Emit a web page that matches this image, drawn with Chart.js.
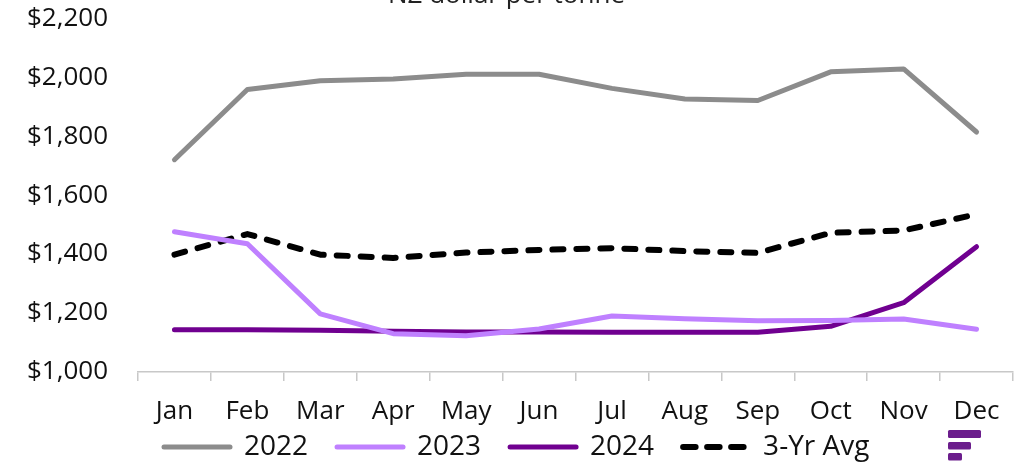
<!DOCTYPE html>
<html><head><meta charset="utf-8">
<script src="https://cdn.jsdelivr.net/npm/chart.js@4.4.1/dist/chart.umd.min.js"></script>
<style>
html,body{margin:0;padding:0;background:#fff;overflow:hidden;width:1035px;height:463px;}
#wrap{position:absolute;left:0;top:-30px;width:1035px;height:493px;}
</style></head>
<body>
<div id="wrap"><canvas id="c" width="1035" height="493"></canvas></div>
<script>
const months = ['Jan','Feb','Mar','Apr','May','Jun','Jul','Aug','Sep','Oct','Nov','Dec'];
const y2022 = [1720,1958,1988,1994,2010,2010,1962,1926,1921,2018,2028,1814];
const y2023 = [1476,1435,1197,1130,1123,1146,1190,1181,1174,1175,1180,1145];
const y2024 = [1143,1143,1142,1138,1136,1136,1135,1135,1135,1155,1235,1425];
const avg3  = [1398,1468,1398,1387,1405,1414,1420,1410,1404,1472,1480,1535];
const yTicks = [1000,1200,1400,1600,1800,2000,2200];
const titleText = 'NZ dollar per tonne';

const logoPlugin = {
  id: 'logo',
  afterDraw(chart){
    const ctx = chart.ctx;
    ctx.save();
    ctx.fillStyle = '#6b1d8c';
    const x = 948, y0 = 460;
    const bars = [[0,33,8],[12,23,7.5],[23,14,7.5]];
    bars.forEach(([dy,w,h])=>{
      ctx.beginPath();
      ctx.roundRect(x, y0+dy, w, h, 1.5);
      ctx.fill();
    });
    ctx.restore();
  }
};
const legendPlace = {
  id: 'legendPlace',
  afterLayout(chart){
    if (chart.legend) { chart.legend.left = 135; chart.legend.top = 434; }
  }
};

const ds = (label, data, color, width, dash) => ({
  label, data, borderColor: color, backgroundColor: color,
  borderWidth: width, pointRadius: 0, tension: 0,
  borderDash: dash || [], borderCapStyle: 'round',
  borderJoinStyle: 'round', fill: false
});

new Chart(document.getElementById('c'), {
  type: 'line',
  data: {
    labels: months,
    datasets: [
      ds('2022', y2022, '#8c8c8c', 5),
      ds('2023', y2023, '#bf80ff', 5),
      ds('2024', y2024, '#700090', 5),
      ds('3-Yr Avg', avg3, '#000000', 6, [11, 13])
    ]
  },
  options: {
    responsive: false,
    animation: false,
    layout: { padding: { left: 0, right: 22, top: 0, bottom: 0 } },
    plugins: {
      title: {
        display: true, text: titleText, color: '#222',
        font: { family: 'Open Sans', size: 26, weight: 'normal' },
        padding: { top: 10, bottom: 7 }
      },
      legend: {
        position: 'bottom', align: 'start', maxHeight: 38,
        labels: {
          usePointStyle: true, pointStyle: 'line', pointStyleWidth: 66,
          color: '#111', padding: 29,
          font: { family: 'Open Sans', size: 28 },
          generateLabels(chart){
            const items = Chart.defaults.plugins.legend.labels.generateLabels(chart);
            items.forEach(it => {
              const d = chart.data.datasets[it.datasetIndex];
              it.lineDash = (d.borderDash && d.borderDash.length) ? [12.5, 11.5] : [];
              it.lineCap = 'round';
              it.lineWidth = d.borderWidth;
              it.strokeStyle = d.borderColor;
            });
            return items;
          }
        }
      },
      tooltip: { enabled: false }
    },
    scales: {
      x: {
        offset: true,
        afterFit(axis){ axis.height = 53; },
        grid: { offset: true, drawOnChartArea: false, drawTicks: true, tickLength: 9, color: '#c8c8c8', lineWidth: 1.5 },
        border: { display: true, color: '#c8c8c8', width: 1.5 },
        ticks: { color: '#111', font: { family: 'Open Sans', size: 26 }, padding: 15, maxRotation: 0 }
      },
      y: {
        min: 1000, max: 2200,
        afterFit(axis){ axis.width = 138; },
        afterBuildTicks(axis){ axis.ticks = yTicks.map(v => ({ value: v })); },
        grid: { display: false, drawTicks: false },
        border: { display: false },
        ticks: {
          color: '#111', font: { family: 'Open Sans', size: 26 }, padding: 30,
          callback: v => '$' + v.toLocaleString('en-US')
        }
      }
    }
  },
  plugins: [logoPlugin, legendPlace]
});
</script>
</body></html>
